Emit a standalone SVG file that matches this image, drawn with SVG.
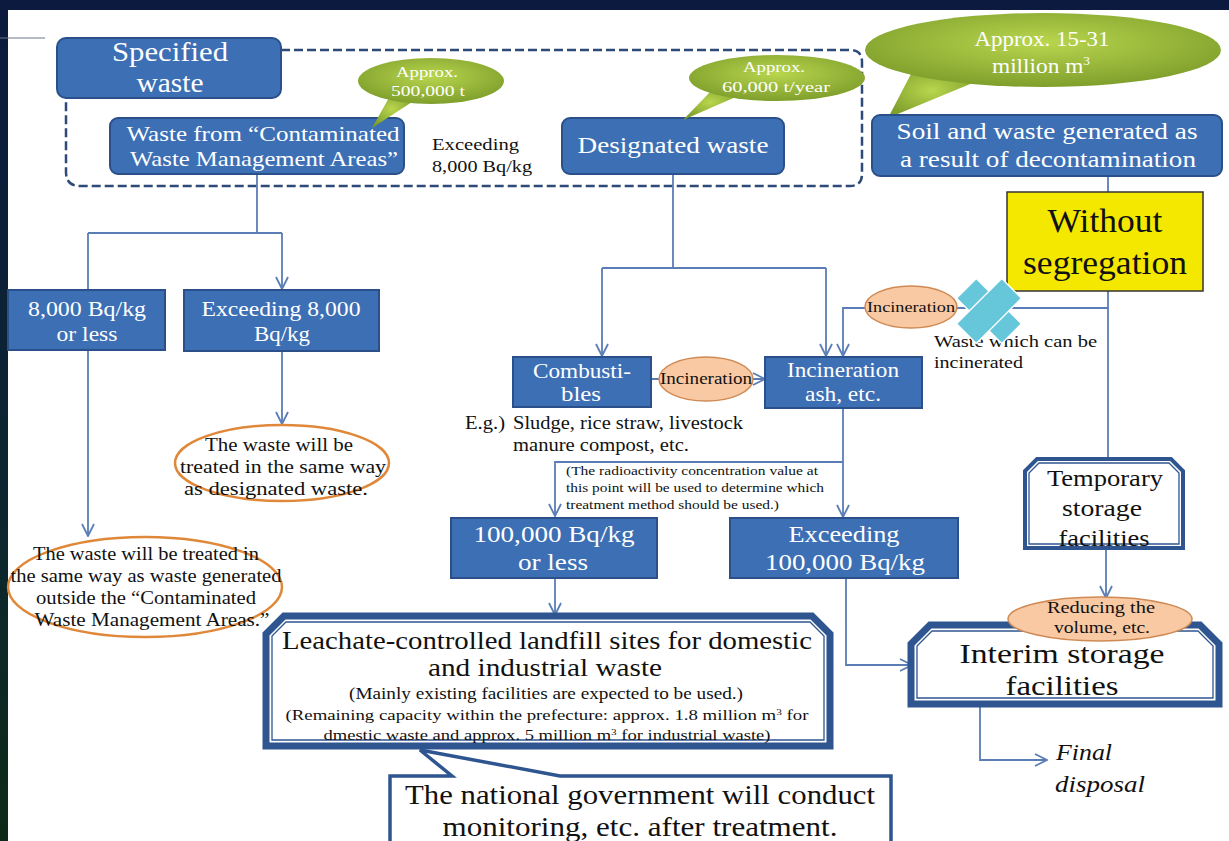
<svg xmlns="http://www.w3.org/2000/svg" width="1229" height="841" viewBox="0 0 1229 841" font-family="'Liberation Serif', 'Times New Roman', serif">
<defs>
<linearGradient id="leftbg" x1="0" y1="0" x2="0" y2="1">
<stop offset="0" stop-color="#0b1a3e"/><stop offset="0.6" stop-color="#0c2630"/><stop offset="1" stop-color="#0d2a18"/>
</linearGradient>
<radialGradient id="green" cx="0.5" cy="0.4" r="0.6">
<stop offset="0" stop-color="#b9d64e"/><stop offset="1" stop-color="#7f9f2c"/>
</radialGradient>
<marker id="arr" viewBox="0 0 14 14" markerWidth="14" markerHeight="14" refX="13" refY="7" orient="auto" markerUnits="userSpaceOnUse">
<path d="M1,1 L13,7 L1,13" fill="none" stroke="#5a7db5" stroke-width="1.8"/>
</marker>
<style>
text{font-family:'Liberation Serif','Times New Roman',serif}
.box{fill:#3d6fb5;stroke:#2b5089;stroke-width:2}
.wt{fill:#ffffff;text-anchor:middle}
.bt{fill:#111111;text-anchor:middle}
.bl{fill:#111111}
.conn{fill:none;stroke:#5a7db5;stroke-width:1.8}
.oval{fill:#ffffff;stroke:#e0883a;stroke-width:2.5}
.peach{fill:#f8c9a2;stroke:#cf8a55;stroke-width:1.5}
.frame{fill:#ffffff;stroke:#2f5590;stroke-width:7}
.inner{fill:none;stroke:#2f5590;stroke-width:1.3}
.xm{fill:#66c6da;stroke:#ffffff;stroke-width:1.5}
</style>
</defs>
<rect x="0" y="0" width="1229" height="841" fill="#ffffff"/>
<rect x="0" y="0" width="1229" height="10" fill="#0b1a3e"/>
<rect x="0" y="0" width="8" height="841" fill="url(#leftbg)"/>
<line x1="0" y1="38" x2="45" y2="38" stroke="#6a7488" stroke-width="1"/>

<g id="dashed-region">
<path d="M281,50 L850,50 Q862,50 862,62 L862,174 Q862,186 850,186 L80,186 Q66,186 66,172 L66,98" fill="none" stroke="#2e4a78" stroke-width="2.5" stroke-dasharray="9 4"/>
</g>

<g id="connectors">
<path class="conn" d="M257,174 L257,233"/>
<path class="conn" d="M88,233 L282,233"/>
<path class="conn" d="M88,233 L88,290"/>
<path class="conn" d="M282,233 L282,289" marker-end="url(#arr)"/>
<path class="conn" d="M282,351 L282,424" marker-end="url(#arr)"/>
<path class="conn" d="M88,350 L88,536" marker-end="url(#arr)"/>
<path class="conn" d="M673,174 L673,268"/>
<path class="conn" d="M602,268 L826,268"/>
<path class="conn" d="M602,268 L602,356" marker-end="url(#arr)"/>
<path class="conn" d="M826,268 L826,356" marker-end="url(#arr)"/>
<path class="conn" d="M1108,176 L1108,458"/>
<path class="conn" d="M1108,308 L843,308 L843,356" marker-end="url(#arr)"/>
<path class="conn" d="M651,379 L765,379" marker-end="url(#arr)"/>
<path class="conn" d="M843,408 L843,517" marker-end="url(#arr)"/>
<path class="conn" d="M843,462 L555,462 L555,516" marker-end="url(#arr)"/>
<path class="conn" d="M555,578 L555,615" marker-end="url(#arr)"/>
<path class="conn" d="M846,578 L846,665 L912,665" marker-end="url(#arr)"/>
<path class="conn" d="M1106,549 L1106,598" marker-end="url(#arr)"/>
<path class="conn" d="M980,706 L980,760 L1047,760" marker-end="url(#arr)"/>
</g>

<g id="specified-waste">
<rect class="box" x="57" y="38" width="224" height="60" rx="9"/>
<text class="wt" x="170" y="61" font-size="28" textLength="116" lengthAdjust="spacingAndGlyphs">Specified</text>
<text class="wt" x="170" y="92" font-size="28" textLength="67" lengthAdjust="spacingAndGlyphs">waste</text>
</g>

<g id="waste-cwma">
<rect class="box" x="110" y="118" width="294" height="56" rx="8"/>
<text class="wt" x="263" y="141" font-size="22" textLength="273" lengthAdjust="spacingAndGlyphs">Waste from “Contaminated</text>
<text class="wt" x="264" y="166" font-size="22" textLength="268" lengthAdjust="spacingAndGlyphs">Waste Management Areas”</text>
</g>

<g id="callout-500k">
<path d="M390,96 L412,102 L372,128 Z" fill="url(#green)"/>
<ellipse cx="431" cy="81" rx="73" ry="23" fill="url(#green)"/>
<text class="wt" x="427" y="77" font-size="14" textLength="62" lengthAdjust="spacingAndGlyphs">Approx.</text>
<text class="wt" x="428" y="96" font-size="14" textLength="74" lengthAdjust="spacingAndGlyphs">500,000 t</text>
</g>

<g id="exceeding-8000-label">
<text class="bl" x="432" y="150" font-size="16" textLength="87" lengthAdjust="spacingAndGlyphs">Exceeding</text>
<text class="bl" x="432" y="172" font-size="16" textLength="100" lengthAdjust="spacingAndGlyphs">8,000 Bq/kg</text>
</g>

<g id="designated-waste">
<rect class="box" x="562" y="118" width="222" height="56" rx="8"/>
<text class="wt" x="673" y="153" font-size="23" textLength="191" lengthAdjust="spacingAndGlyphs">Designated waste</text>
</g>

<g id="callout-60k">
<path d="M712,90 L738,96 L683,120 Z" fill="url(#green)"/>
<ellipse cx="777" cy="78" rx="88" ry="23" fill="url(#green)"/>
<text class="wt" x="774" y="72" font-size="14" textLength="62" lengthAdjust="spacingAndGlyphs">Approx.</text>
<text class="wt" x="776" y="92" font-size="14" textLength="108" lengthAdjust="spacingAndGlyphs">60,000 t/year</text>
</g>

<g id="callout-15-31">
<path d="M912,72 L975,82 L888,118 Z" fill="url(#green)"/>
<ellipse cx="1043" cy="50" rx="178" ry="37" fill="url(#green)"/>
<text class="wt" x="1042" y="46" font-size="21" textLength="135" lengthAdjust="spacingAndGlyphs">Approx. 15-31</text>
<text class="wt" x="1041" y="73" font-size="21" textLength="98" lengthAdjust="spacingAndGlyphs">million m<tspan font-size="12" dy="-8">3</tspan></text>
</g>

<g id="soil-waste">
<rect class="box" x="872" y="115" width="350" height="61" rx="8"/>
<text class="wt" x="1047" y="139" font-size="23" textLength="301" lengthAdjust="spacingAndGlyphs">Soil and waste generated as</text>
<text class="wt" x="1048" y="167" font-size="23" textLength="296" lengthAdjust="spacingAndGlyphs">a result of decontamination</text>
</g>

<g id="without-segregation">
<rect x="1007" y="192" width="196" height="99" fill="#f5e800" stroke="#333333" stroke-width="1.5"/>
<text class="bt" x="1105" y="232" font-size="33" textLength="115" lengthAdjust="spacingAndGlyphs">Without</text>
<text class="bt" x="1105" y="274" font-size="33" textLength="164" lengthAdjust="spacingAndGlyphs">segregation</text>
</g>

<g id="le-8000">
<rect class="box" x="8" y="290" width="157" height="60"/>
<text class="wt" x="87" y="316" font-size="22" textLength="118" lengthAdjust="spacingAndGlyphs">8,000 Bq/kg</text>
<text class="wt" x="87" y="341" font-size="22" textLength="61" lengthAdjust="spacingAndGlyphs">or less</text>
</g>

<g id="gt-8000">
<rect class="box" x="184" y="290" width="195" height="61"/>
<text class="wt" x="281" y="316" font-size="22" textLength="159" lengthAdjust="spacingAndGlyphs">Exceeding 8,000</text>
<text class="wt" x="282" y="341" font-size="22" textLength="56" lengthAdjust="spacingAndGlyphs">Bq/kg</text>
</g>

<g id="same-as-designated">
<ellipse class="oval" cx="282" cy="463" rx="107" ry="38"/>
<text class="bt" x="279" y="451" font-size="18" textLength="148" lengthAdjust="spacingAndGlyphs">The waste will be</text>
<text class="bt" x="283" y="473" font-size="18" textLength="206" lengthAdjust="spacingAndGlyphs">treated in the same way</text>
<text class="bt" x="276" y="495" font-size="18" textLength="184" lengthAdjust="spacingAndGlyphs">as designated waste.</text>
</g>

<g id="same-as-outside">
<ellipse class="oval" cx="145" cy="587" rx="137" ry="50"/>
<text class="bt" x="146" y="560" font-size="18" textLength="226" lengthAdjust="spacingAndGlyphs">The waste will be treated in</text>
<text class="bt" x="146" y="582" font-size="18" textLength="271" lengthAdjust="spacingAndGlyphs">the same way as waste generated</text>
<text class="bt" x="146" y="604" font-size="18" textLength="220" lengthAdjust="spacingAndGlyphs">outside the “Contaminated</text>
<text class="bt" x="152" y="626" font-size="18" textLength="235" lengthAdjust="spacingAndGlyphs">Waste Management Areas.”</text>
</g>

<g id="combustibles">
<rect class="box" x="513" y="357" width="138" height="50"/>
<text class="wt" x="582" y="378" font-size="21" textLength="98" lengthAdjust="spacingAndGlyphs">Combusti-</text>
<text class="wt" x="581" y="401" font-size="21" textLength="40" lengthAdjust="spacingAndGlyphs">bles</text>
</g>

<g id="incineration-1">
<ellipse class="peach" cx="706" cy="379" rx="47" ry="22"/>
<text class="bt" x="706" y="384" font-size="16" textLength="92" lengthAdjust="spacingAndGlyphs">Incineration</text>
</g>

<g id="incineration-ash">
<rect class="box" x="765" y="357" width="157" height="51"/>
<text class="wt" x="843" y="377" font-size="21" textLength="112" lengthAdjust="spacingAndGlyphs">Incineration</text>
<text class="wt" x="843" y="401" font-size="21" textLength="76" lengthAdjust="spacingAndGlyphs">ash, etc.</text>
</g>

<g id="eg-text">
<text class="bl" x="465" y="429" font-size="18" textLength="40" lengthAdjust="spacingAndGlyphs">E.g.)</text>
<text class="bl" x="513" y="429" font-size="18" textLength="230" lengthAdjust="spacingAndGlyphs">Sludge, rice straw, livestock</text>
<text class="bl" x="513" y="451" font-size="18" textLength="176" lengthAdjust="spacingAndGlyphs">manure compost, etc.</text>
</g>

<g id="note-text">
<text class="bl" x="566" y="475" font-size="13.5" textLength="252" lengthAdjust="spacingAndGlyphs">(The radioactivity  concentration value  at</text>
<text class="bl" x="566" y="492" font-size="13.5" textLength="258" lengthAdjust="spacingAndGlyphs">this point will  be used to determine  which</text>
<text class="bl" x="566" y="509" font-size="13.5" textLength="213" lengthAdjust="spacingAndGlyphs">treatment  method should be used.)</text>
</g>

<g id="incineration-2">
<ellipse class="peach" cx="911" cy="307" rx="46" ry="21"/>
<text class="bt" x="911" y="312" font-size="15" textLength="88" lengthAdjust="spacingAndGlyphs">Incineration</text>
</g>

<g id="waste-incinerable">
<text class="bl" x="934" y="347" font-size="17" textLength="163" lengthAdjust="spacingAndGlyphs">Waste which can be</text>
<text class="bl" x="934" y="368" font-size="17" textLength="89" lengthAdjust="spacingAndGlyphs">incinerated</text>
</g>

<g id="cross-mark" transform="translate(989,311) rotate(45)">
<rect class="xm" x="-32" y="-14" width="64" height="28"/>
<rect class="xm" x="-14" y="-32" width="28" height="64"/>
<rect x="-13" y="-13" width="26" height="26" fill="#66c6da"/>
</g>

<g id="le-100000">
<rect class="box" x="451" y="518" width="206" height="60"/>
<text class="wt" x="554" y="542" font-size="24" textLength="161" lengthAdjust="spacingAndGlyphs">100,000 Bq/kg</text>
<text class="wt" x="553" y="570" font-size="24" textLength="70" lengthAdjust="spacingAndGlyphs">or less</text>
</g>

<g id="gt-100000">
<rect class="box" x="730" y="518" width="228" height="60"/>
<text class="wt" x="844" y="542" font-size="24" textLength="111" lengthAdjust="spacingAndGlyphs">Exceeding</text>
<text class="wt" x="845" y="570" font-size="24" textLength="160" lengthAdjust="spacingAndGlyphs">100,000 Bq/kg</text>
</g>

<g id="temporary-storage">
<path class="frame" style="stroke-width:4" d="M1037,459 L1171,459 L1183,471 L1183,548 L1025,548 L1025,471 Z"/>
<path class="inner" d="M1039,463 L1169,463 L1179,473 L1179,544 L1029,544 L1029,473 Z"/>
<text class="bt" x="1105" y="486" font-size="24" textLength="116" lengthAdjust="spacingAndGlyphs">Temporary</text>
<text class="bt" x="1102" y="516" font-size="24" textLength="80" lengthAdjust="spacingAndGlyphs">storage</text>
<text class="bt" x="1104" y="546" font-size="24" textLength="91" lengthAdjust="spacingAndGlyphs">facilities</text>
</g>

<g id="landfill">
<path class="frame" d="M284,616 L812,616 L830,634 L830,746 L266,746 L266,634 Z"/>
<path class="inner" d="M286,622 L810,622 L824,636 L824,740 L272,740 L272,636 Z"/>
<text class="bt" x="547" y="649" font-size="25" textLength="530" lengthAdjust="spacingAndGlyphs">Leachate-controlled landfill sites for domestic</text>
<text class="bt" x="545" y="676" font-size="25" textLength="234" lengthAdjust="spacingAndGlyphs">and industrial waste</text>
<text class="bt" x="546" y="699" font-size="16" textLength="394" lengthAdjust="spacingAndGlyphs">(Mainly existing facilities  are expected to be used.)</text>
<text class="bt" x="547" y="720" font-size="15" textLength="523" lengthAdjust="spacingAndGlyphs">(Remaining capacity within the prefecture: approx. 1.8 million m<tspan font-size="9" dy="-5">3</tspan><tspan dy="5"> for</tspan></text>
<text class="bt" x="547" y="740" font-size="15" textLength="447" lengthAdjust="spacingAndGlyphs">dmestic waste and approx. 5 million m<tspan font-size="9" dy="-5">3</tspan><tspan dy="5"> for industrial waste)</tspan></text>
</g>

<g id="monitoring-callout">
<path d="M390,843 L390,776 L452,776 L420,750 L560,776 L891,776 L891,843" fill="#ffffff" stroke="#2f5590" stroke-width="3.5"/>
<text class="bt" x="640" y="804" font-size="28" textLength="470" lengthAdjust="spacingAndGlyphs">The national government will conduct</text>
<text class="bt" x="640" y="836" font-size="28" textLength="395" lengthAdjust="spacingAndGlyphs">monitoring, etc. after treatment.</text>
</g>

<g id="interim-storage">
<path class="frame" d="M930,625 L1200,625 L1219,644 L1219,704 L911,704 L911,644 Z"/>
<path class="inner" d="M932,631 L1198,631 L1213,646 L1213,698 L917,698 L917,646 Z"/>
<text class="bt" x="1062" y="663" font-size="28" textLength="205" lengthAdjust="spacingAndGlyphs">Interim storage</text>
<text class="bt" x="1062" y="695" font-size="28" textLength="113" lengthAdjust="spacingAndGlyphs">facilities</text>
</g>

<g id="reducing-volume">
<ellipse class="peach" cx="1100" cy="619" rx="92" ry="22"/>
<text class="bt" x="1101" y="613" font-size="16" textLength="108" lengthAdjust="spacingAndGlyphs">Reducing the</text>
<text class="bt" x="1102" y="633" font-size="16" textLength="96" lengthAdjust="spacingAndGlyphs">volume, etc.</text>
</g>

<g id="final-disposal">
<text class="bl" x="1056" y="760" font-size="24" font-style="italic" textLength="56" lengthAdjust="spacingAndGlyphs">Final</text>
<text class="bl" x="1055" y="792" font-size="24" font-style="italic" textLength="90" lengthAdjust="spacingAndGlyphs">disposal</text>
</g>
</svg>
